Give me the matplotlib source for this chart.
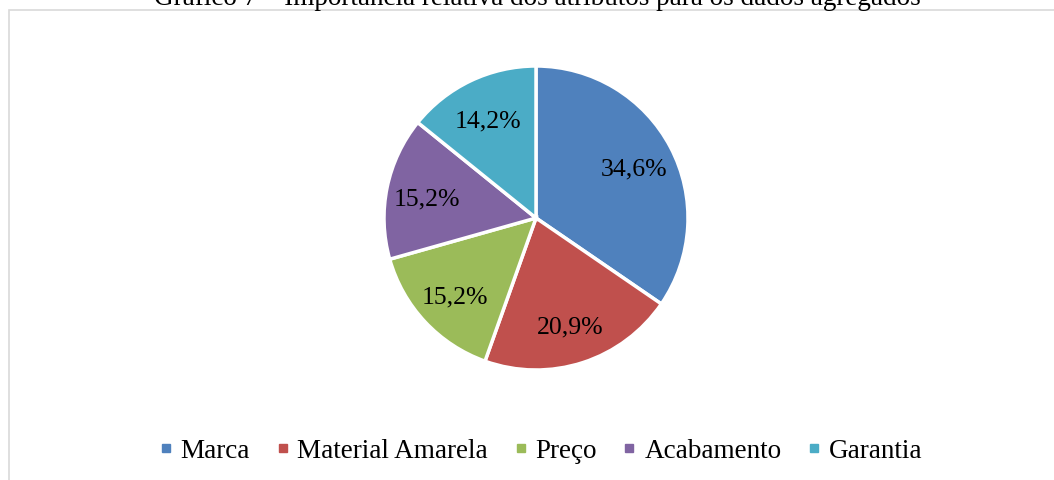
import matplotlib
matplotlib.use("Agg")
import matplotlib.pyplot as plt
from matplotlib.lines import Line2D
from matplotlib.patches import Rectangle

categories = ["Marca", "Material Amarela", "Preço", "Acabamento", "Garantia"]
values = [34.6, 20.9, 15.2, 15.2, 14.2]
colors = ["#4F81BD", "#C0504D", "#9BBB59", "#8064A2", "#4BACC6"]
title = "Gráfico 7 – Importância relativa dos atributos para os dados agregados"

plt.rcParams['font.family'] = ['Liberation Serif', 'DejaVu Serif']

W, H = 1054, 481
fig = plt.figure(figsize=(W / 100, H / 100), dpi=100)

# chart frame
fig.patches.append(Rectangle((8.5 / W, -0.05), 1.1, 1 - 10.5 / H + 0.05,
                             transform=fig.transFigure, facecolor="white",
                             edgecolor="#D9D9D9", linewidth=1.2, zorder=-5))

# title (partially cut off at top)
fig.text(537 / W, 1 - 5 / H, title, ha="center", va="baseline", fontsize=19.5)

cx, cy, r = 536, 219, 152
ax = fig.add_axes([(cx - r) / W, 1 - (cy + r) / H, 2 * r / W, 2 * r / H])
ax.set_zorder(2)
ax.patch.set_visible(False)
labels_txt = iter([f"{v:.1f}%".replace(".", ",") for v in values])
wedges, texts, autotexts = ax.pie(
    values, colors=colors, startangle=90, counterclock=False,
    autopct=lambda p: next(labels_txt), pctdistance=0.73,
    wedgeprops=dict(edgecolor="white", linewidth=2.5),
    textprops=dict(fontsize=18.5, color="black"))
for t in autotexts:
    t.set_va("center_baseline")
ax.set_xlim(-1, 1)
ax.set_ylim(-1, 1)
ax.set_aspect("equal")

handles = [Line2D([0], [0], marker="s", linestyle="none", markersize=6,
                  markerfacecolor=c, markeredgecolor=c) for c in colors]
fig.legend(handles, categories, loc="center", bbox_to_anchor=(540 / W, 1 - 452 / H),
           ncol=5, frameon=False, fontsize=19.5, handlelength=0.6,
           handletextpad=0.25, columnspacing=0.9, borderaxespad=0)

fig.savefig("out.png", dpi=100)
